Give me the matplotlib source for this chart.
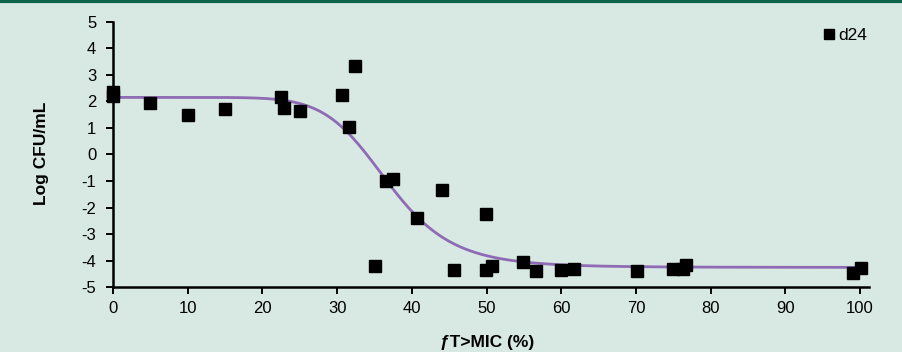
import numpy as np
import matplotlib
matplotlib.use("Agg")
import matplotlib.pyplot as plt

ft_mic = [0, 0, 5, 10, 15, 22.5, 22.85, 25, 30.65, 31.55, 32.4,
          35.1, 36.5, 37.5, 40.7, 44.1, 45.7, 49.9, 49.9, 50.8,
          54.9, 56.6, 60.0, 61.7, 70.1, 74.9, 76.3, 76.7, 99.1, 100.1]
log_cfu = [2.37, 2.2, 1.94, 1.47, 1.71, 2.18, 1.75, 1.65, 2.23, 1.05, 3.34,
           -4.2, -0.99, -0.93, -2.38, -1.33, -4.35, -2.25, -4.35, -4.2,
           -4.06, -4.38, -4.35, -4.3, -4.39, -4.3, -4.3, -4.16, -4.45, -4.26]

# sigmoid Emax fit (parameters estimated from the drawn curve)
fit_top = 2.15
fit_bottom = -4.25
fit_ec50 = 36.8
fit_hill = 8.5

x_ticks = [0, 10, 20, 30, 40, 50, 60, 70, 80, 90, 100]
y_ticks = [5, 4, 3, 2, 1, 0, -1, -2, -3, -4, -5]

bg = "#d8e8e2"
plt.rcParams["font.family"] = ["Liberation Sans", "DejaVu Sans"]
plt.rcParams["axes.unicode_minus"] = False

fig = plt.figure(figsize=(9.03, 3.52), dpi=100, facecolor=bg)
ax = fig.add_axes([113/903, 64.7/352, 756/903, 265.6/352])
ax.set_facecolor(bg)

xs = np.linspace(0, 100, 400)
fit = fit_top + (fit_bottom - fit_top) * xs**fit_hill / (fit_ec50**fit_hill + xs**fit_hill)
ax.plot(xs, fit, color="#8f6bb5", lw=2, zorder=2)
ax.plot(ft_mic, log_cfu, "s", color="black", ms=8, clip_on=False, zorder=4, label="d24")

ax.set_xlim(0, 101.2)
ax.set_ylim(-5, 5)
ax.set_xticks(x_ticks)
ax.set_yticks(y_ticks)
ax.tick_params(direction="out", length=5, width=1.4, labelsize=12, colors="black")
ax.tick_params(axis="y", pad=7)
ax.tick_params(axis="x", pad=5)
for s in ["top", "right"]:
    ax.spines[s].set_visible(False)
for s in ["left", "bottom"]:
    ax.spines[s].set_linewidth(1.8)
    ax.spines[s].set_zorder(3)

ax.set_xlabel("ƒT>MIC (%)", fontsize=12.5, fontweight="bold")
ax.set_ylabel("Log CFU/mL", fontsize=12.5, fontweight="bold")
ax.xaxis.set_label_coords(0.495, -0.18)
ax.yaxis.set_label_coords(-0.084, 0.506)

leg = ax.legend(loc="upper right", bbox_to_anchor=(1.018, 1.035), frameon=False,
                fontsize=12.5, handletextpad=0.05, markerscale=0.95, handlelength=1)

# dark green rule along the top edge
fig.add_artist(plt.Line2D([0, 1], [0.997, 0.997], color="#0b6448", lw=3, transform=fig.transFigure))

fig.savefig("out.png", dpi=100, facecolor=bg)
